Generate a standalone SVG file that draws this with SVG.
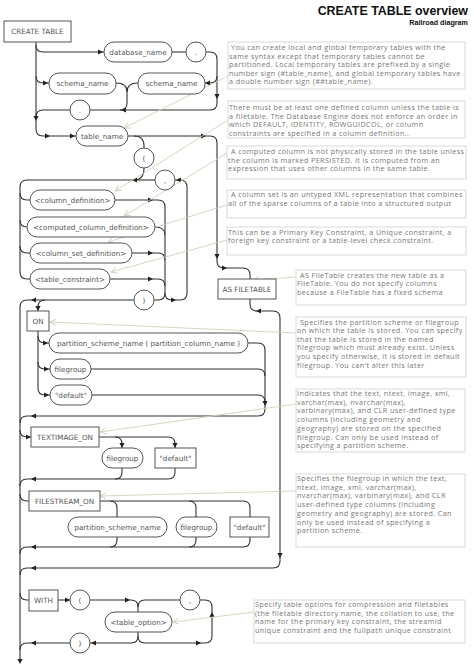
<svg xmlns="http://www.w3.org/2000/svg" xmlns:xlink="http://www.w3.org/1999/xlink" width="474" height="667" viewBox="0 0 474 667">
<defs>
<style>
.n rect,.n circle{fill:#fff;stroke:#555;stroke-width:1}
.n text{font-family:"DejaVu Sans",sans-serif;font-size:7.2px;fill:#555;text-anchor:middle}
.c path{fill:none;stroke:#333;stroke-width:1.1}
.a rect{fill:#fff;stroke:#d9d9d9;stroke-width:1}
.a text{font-family:"Open Sans",sans-serif;font-size:7.2px;letter-spacing:0.4px;fill:#777}
.p line{stroke:#d4d0b4;stroke-width:0.9;marker-end:url(#pm)}
.t{font-family:"Liberation Sans",Arial,sans-serif;font-weight:bold;fill:#111;text-anchor:end}
</style>
<path id="ah" d="M0,0 L-5,-2.6 L-5,2.6 Z" fill="#222"/>
<marker id="pm" viewBox="0 0 8 8" refX="7" refY="4" markerWidth="7" markerHeight="7" markerUnits="userSpaceOnUse" orient="auto"><path d="M0,0.5 L7,4 L0,7.5" fill="none" stroke="#cfcbb0" stroke-width="1"/></marker>
</defs>
<rect width="474" height="667" fill="#fff"/>
<text class="t" x="468" y="15" font-size="12.4">CREATE TABLE overview</text>
<text class="t" x="468" y="25" font-size="7.2">Railroad diagram</text>

<g id="connectors" class="c">
<path d="M36,42 L36,129 Q36,136 43,136 L76,136"/>
<path d="M36,45 Q36,52 43,52 L104,52"/>
<path d="M172,52 L186,52"/>
<path d="M206,52 L210,52 Q217,52 217,59 L217,103 Q217,110 210,110 L90,110"/>
<path d="M217,76 Q217,83 210,83 L205,83"/>
<path d="M36,76 Q36,83 43,83 L49,83"/>
<path d="M116,83 Q127,83 127,92 L127,103 Q127,110 120,110"/>
<path d="M138,83 Q127,83 127,92"/>
<path d="M70,110 L43,110 Q36,110 36,117"/>
<path d="M128,136 L210,136 Q217,136 217,143 L217,261 Q217,268 224,268 L243,268 Q250,268 250,275 L250,279"/>
<path d="M134,136 Q144,136 144,146 L144,148"/>
<path d="M144,168 Q144,180 134,180 L27,180 Q20,180 20,187 L20,272 Q20,279 27,279 L30,279"/>
<path d="M155,180 L134,180"/>
<path d="M20,193 Q20,200 27,200 L30,200"/>
<path d="M20,220 Q20,227 27,227"/>
<path d="M20,246 Q20,253 27,253 L30,253"/>
<path d="M115,200 L158,200 Q165,200 165,207 L165,293 Q165,300 172,300 L180,300 Q187,300 187,293 L187,187 Q187,180 180,180 L175,180"/>
<path d="M155,227 Q165,227 165,235"/>
<path d="M132,253 L158,253 Q165,253 165,260"/>
<path d="M110,279 L158,279 Q165,279 165,286"/>
<path d="M165,293 Q165,300 158,300 L154,300"/>
<path d="M134,300 L45,300 Q38,300 38,307 L38,311"/>
<path d="M45,300 L27,300 Q20,300 20,307 L20,660"/>
<path d="M250,299 L250,304 Q250,311 257,311 L273,311 Q280,311 280,318 L280,561 Q280,568 273,568 L27,568 Q20,568 20,575"/>
<path d="M38,331 L38,388 Q38,395 45,395 L50,395"/>
<path d="M38,336 Q38,343 45,343 L49,343"/>
<path d="M38,362 Q38,369 45,369 L50,369"/>
<path d="M248,343 L258,343 Q265,343 265,350 L265,409 Q265,416 258,416 L27,416 Q20,416 20,423"/>
<path d="M91,369 L258,369 Q265,369 265,376"/>
<path d="M92,395 L258,395 Q265,395 265,402"/>
<path d="M20,430 Q20,437 27,437 L31,437"/>
<path d="M99,437 L168,437 Q175,437 175,444 L175,448"/>
<path d="M115,437 Q122,437 122,444 L122,448"/>
<path d="M122,468 L122,472 Q122,479 115,479"/>
<path d="M175,468 L175,472 Q175,479 168,479 L27,479 Q20,479 20,486"/>
<path d="M20,494 Q20,501 27,501 L29,501"/>
<path d="M100,501 L243,501 Q250,501 250,508 L250,517"/>
<path d="M110,501 Q117,501 117,508 L117,517"/>
<path d="M189,501 Q196,501 196,508 L196,517"/>
<path d="M117,537 L117,540 Q117,547 110,547"/>
<path d="M196,537 L196,540 Q196,547 189,547"/>
<path d="M250,537 L250,540 Q250,547 243,547 L27,547 Q20,547 20,554"/>
<path d="M20,593 Q20,600 27,600 L29,600"/>
<path d="M58,600 L70,600"/>
<path d="M90,600 L131,600 Q138,600 138,607 L138,612"/>
<path d="M138,607 Q138,600 145,600 L180,600"/>
<path d="M200,600 L205,600 Q212,600 212,607 L212,636 Q212,643 205,643 L145,643 Q138,643 138,636 L138,632"/>
<path d="M138,636 Q138,643 131,643 L90,643"/>
<path d="M70,643 L27,643 Q20,643 20,650"/>
<use xlink:href="#ah" transform="translate(103,52)"/>
<use xlink:href="#ah" transform="translate(48,83)"/>
<use xlink:href="#ah" transform="translate(205,83) rotate(180)"/>
<use xlink:href="#ah" transform="translate(217,99) rotate(90)"/>
<use xlink:href="#ah" transform="translate(121,110) rotate(180)"/>
<use xlink:href="#ah" transform="translate(36,121) rotate(90)"/>
<use xlink:href="#ah" transform="translate(50,136)"/>
<use xlink:href="#ah" transform="translate(75,136)"/>
<use xlink:href="#ah" transform="translate(206,136)"/>
<use xlink:href="#ah" transform="translate(217,259) rotate(90)"/>
<use xlink:href="#ah" transform="translate(227,268)"/>
<use xlink:href="#ah" transform="translate(132,180) rotate(180)"/>
<use xlink:href="#ah" transform="translate(176,180) rotate(180)"/>
<use xlink:href="#ah" transform="translate(153,200)"/>
<use xlink:href="#ah" transform="translate(153,253)"/>
<use xlink:href="#ah" transform="translate(153,279)"/>
<use xlink:href="#ah" transform="translate(176,300)"/>
<use xlink:href="#ah" transform="translate(31,300) rotate(180)"/>
<use xlink:href="#ah" transform="translate(38,311) rotate(90)"/>
<use xlink:href="#ah" transform="translate(48,343)"/>
<use xlink:href="#ah" transform="translate(49,369)"/>
<use xlink:href="#ah" transform="translate(49,395)"/>
<use xlink:href="#ah" transform="translate(265,406) rotate(90)"/>
<use xlink:href="#ah" transform="translate(31,416) rotate(180)"/>
<use xlink:href="#ah" transform="translate(31,437)"/>
<use xlink:href="#ah" transform="translate(122,448) rotate(90)"/>
<use xlink:href="#ah" transform="translate(175,448) rotate(90)"/>
<use xlink:href="#ah" transform="translate(31,479) rotate(180)"/>
<use xlink:href="#ah" transform="translate(31,547) rotate(180)"/>
<use xlink:href="#ah" transform="translate(31,568) rotate(180)"/>
<use xlink:href="#ah" transform="translate(280,558) rotate(90)"/>
<use xlink:href="#ah" transform="translate(256,311) rotate(180)"/>
<use xlink:href="#ah" transform="translate(70,600)"/>
<use xlink:href="#ah" transform="translate(130,600)"/>
<use xlink:href="#ah" transform="translate(212,612) rotate(-90)"/>
<use xlink:href="#ah" transform="translate(201,643)"/>
<use xlink:href="#ah" transform="translate(91,643) rotate(180)"/>
<use xlink:href="#ah" transform="translate(31,643) rotate(180)"/>
<use xlink:href="#ah" transform="translate(20,664) rotate(90)"/>
</g>

<g id="pointers" class="p">
<line x1="228" y1="76" x2="124" y2="128"/>
<line x1="228" y1="120" x2="115" y2="191"/>
<line x1="227" y1="153" x2="124" y2="216"/>
<line x1="227" y1="205" x2="108" y2="242"/>
<line x1="227" y1="240" x2="111" y2="272"/>
<line x1="296" y1="277" x2="253" y2="280"/>
<line x1="296" y1="333" x2="50" y2="322"/>
<line x1="296" y1="404" x2="100" y2="432"/>
<line x1="296" y1="491" x2="100" y2="496"/>
<line x1="254" y1="612" x2="173" y2="622"/>
</g>

<g id="n_create" class="n"><rect x="4" y="21" width="67" height="21"/><text x="37.5" y="34">CREATE TABLE</text></g>
<g id="n_database_name" class="n"><rect x="104" y="42" width="68" height="20" rx="10"/><text x="138" y="55">database_name</text></g>
<g id="n_dot1" class="n"><circle cx="196" cy="52" r="10"/><text x="196" y="55">.</text></g>
<g id="n_schema_name1" class="n"><rect x="49" y="73" width="67" height="21" rx="10"/><text x="82.5" y="86">schema_name</text></g>
<g id="n_schema_name2" class="n"><rect x="138" y="73" width="67" height="21" rx="10"/><text x="171.5" y="86">schema_name</text></g>
<g id="n_dot2" class="n"><circle cx="80" cy="110" r="10"/><text x="80" y="113">.</text></g>
<g id="n_table_name" class="n"><rect x="76" y="126" width="52" height="20" rx="10"/><text x="102" y="139">table_name</text></g>
<g id="n_lparen1" class="n"><circle cx="144" cy="158" r="10"/><text x="144" y="161">(</text></g>
<g id="n_comma1" class="n"><circle cx="165" cy="180" r="10"/><text x="165" y="183">,</text></g>
<g id="n_column_definition" class="n"><rect x="30" y="190" width="85" height="20" rx="10"/><text x="72.5" y="203">&lt;column_definition&gt;</text></g>
<g id="n_computed_column_definition" class="n"><rect x="27" y="217" width="128" height="20" rx="10"/><text x="91" y="230">&lt;computed_column_definition&gt;</text></g>
<g id="n_column_set_definition" class="n"><rect x="30" y="243" width="102" height="20" rx="10"/><text x="81" y="256">&lt;column_set_definition&gt;</text></g>
<g id="n_table_constraint" class="n"><rect x="30" y="269" width="80" height="20" rx="10"/><text x="70" y="282">&lt;table_constraint&gt;</text></g>
<g id="n_rparen1" class="n"><circle cx="144" cy="300" r="10"/><text x="144" y="303">)</text></g>
<g id="n_as_filetable" class="n"><rect x="218" y="279" width="58" height="20"/><text x="247" y="292">AS FILETABLE</text></g>
<g id="n_on" class="n"><rect x="27" y="311" width="22" height="20"/><text x="38" y="324">ON</text></g>
<g id="n_partition" class="n"><rect x="49" y="333" width="199" height="20" rx="10"/><text x="148.5" y="346">partition_scheme_name ( partition_column_name )</text></g>
<g id="n_filegroup1" class="n"><rect x="50" y="359" width="41" height="20" rx="10"/><text x="70.5" y="372">filegroup</text></g>
<g id="n_default1" class="n"><rect x="50" y="385" width="42" height="20" rx="10"/><text x="71" y="398">"default"</text></g>
<g id="n_textimage_on" class="n"><rect x="31" y="427" width="68" height="20"/><text x="65" y="440">TEXTIMAGE_ON</text></g>
<g id="n_filegroup2" class="n"><rect x="102" y="448" width="41" height="20" rx="10"/><text x="122.5" y="461">filegroup</text></g>
<g id="n_default2" class="n"><rect x="155" y="448" width="41" height="20"/><text x="175.5" y="461">"default"</text></g>
<g id="n_filestream_on" class="n"><rect x="29" y="491" width="71" height="20"/><text x="64.5" y="504">FILESTREAM_ON</text></g>
<g id="n_partition_scheme_name" class="n"><rect x="68" y="517" width="99" height="20" rx="10"/><text x="117.5" y="530">partition_scheme_name</text></g>
<g id="n_filegroup3" class="n"><rect x="176" y="517" width="41" height="20" rx="10"/><text x="196.5" y="530">filegroup</text></g>
<g id="n_default3" class="n"><rect x="230" y="517" width="39" height="20"/><text x="249.5" y="530">"default"</text></g>
<g id="n_with" class="n"><rect x="29" y="590" width="29" height="21"/><text x="43.5" y="603">WITH</text></g>
<g id="n_lparen2" class="n"><circle cx="80" cy="600" r="10"/><text x="80" y="603">(</text></g>
<g id="n_comma2" class="n"><circle cx="190" cy="600" r="10"/><text x="190" y="603">,</text></g>
<g id="n_table_option" class="n"><rect x="105" y="612" width="67" height="20" rx="10"/><text x="138.5" y="625">&lt;table_option&gt;</text></g>
<g id="n_rparen2" class="n"><circle cx="80" cy="643" r="10"/><text x="80" y="646">)</text></g>

<g id="note1" class="a"><rect x="228" y="42" width="237" height="47"/>
<text x="231" y="50">You can create local and global temporary tables with the</text>
<text x="229" y="58.6">same syntax except that temporary tables cannot be</text>
<text x="229" y="67.2">partitioned. Local temporary tables are prefixed by a single</text>
<text x="229" y="75.8">number sign (#table_name), and global temporary tables have</text>
<text x="229" y="84.4">a double number sign (##table_name).</text></g>
<g id="note2" class="a"><rect x="228" y="101" width="237" height="37"/>
<text x="229" y="110">There must be at least one defined column unless the table is</text>
<text x="229" y="118.6">a filetable. The Database Engine does not enforce an order in</text>
<text x="229" y="127.2">which DEFAULT, IDENTITY, ROWGUIDCOL, or column</text>
<text x="229" y="135.8">constraints are specified in a column definition..</text></g>
<g id="note3" class="a"><rect x="227" y="146" width="239" height="33"/>
<text x="231" y="154">A computed column is not physically stored in the table unless</text>
<text x="228" y="162.6">the column is marked PERSISTED. It is computed from an</text>
<text x="228" y="171.2">expression that uses other columns in the same table.</text></g>
<g id="note4" class="a"><rect x="227" y="190" width="239" height="28"/>
<text x="231" y="197">A column set is an untyped XML representation that combines</text>
<text x="228" y="205.6">all of the sparse columns of a table into a structured output</text></g>
<g id="note5" class="a"><rect x="227" y="227" width="239" height="28"/>
<text x="228" y="234.5">This can be a Primary Key Constraint, a Unique constraint, a</text>
<text x="228" y="243.1">foreign key constraint or a table-level check constraint.</text></g>
<g id="note6" class="a"><rect x="296" y="270" width="170" height="35"/>
<text x="300" y="277.5">AS FileTable creates the new table as a</text>
<text x="297" y="286.1">FileTable. You do not specify columns</text>
<text x="297" y="294.7">because a FileTable has a fixed schema</text></g>
<g id="note7" class="a"><rect x="296" y="317" width="170" height="60"/>
<text x="300" y="324.5">Specifies the partition scheme or filegroup</text>
<text x="297" y="333.1">on which the table is stored. You can specify</text>
<text x="297" y="341.7">that the table is stored in the named</text>
<text x="297" y="350.3">filegroup which must already exist. Unless</text>
<text x="297" y="358.9">you specify otherwise, it is stored in default</text>
<text x="297" y="367.5">filegroup. You can't alter this later</text></g>
<g id="note8" class="a"><rect x="296" y="389" width="169" height="63"/>
<text x="297" y="396">Indicates that the text, ntext, image, xml,</text>
<text x="297" y="404.7">varchar(max), nvarchar(max),</text>
<text x="297" y="413.4">varbinary(max), and CLR user-defined type</text>
<text x="297" y="422.1">columns (including geometry and</text>
<text x="297" y="430.8">geography) are stored on the specified</text>
<text x="297" y="439.5">filegroup. Can only be used instead of</text>
<text x="297" y="448.2">specifying a partition scheme.</text></g>
<g id="note9" class="a"><rect x="296" y="474" width="169" height="73"/>
<text x="297" y="481">Specifies the filegroup in which the text,</text>
<text x="297" y="489.7">ntext, image, xml, varchar(max),</text>
<text x="297" y="498.4">nvarchar(max), varbinary(max), and CLR</text>
<text x="297" y="507.1">user-defined type columns (including</text>
<text x="297" y="515.8">geometry and geography) are stored. Can</text>
<text x="297" y="524.5">only be used instead of specifying a</text>
<text x="297" y="533.2">partition scheme.</text></g>
<g id="note10" class="a"><rect x="254" y="600" width="211" height="43"/>
<text x="255" y="607">Specify table options for compression and filetables</text>
<text x="255" y="615.7">(the filetable directory name, the collation to use, the</text>
<text x="255" y="624.4">name for the primary key constraint, the streamid</text>
<text x="255" y="633.1">unique constraint and the fullpath unique constraint</text></g>
</svg>
